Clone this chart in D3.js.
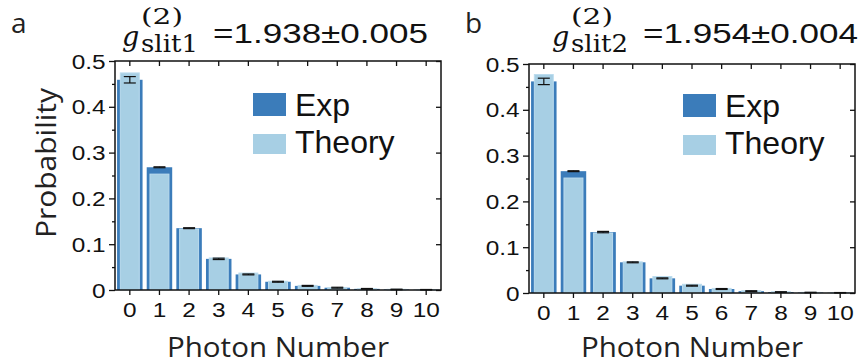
<!DOCTYPE html>
<html>
<head>
<meta charset="utf-8">
<script src="https://cdn.jsdelivr.net/npm/d3@7"></script>
<style>
    body { margin: 0; background: #fff; }
    svg { display: block; }
</style>
</head>
<body>
<svg id="chart" width="862" height="364"></svg>
<script>
// photon number categories
const photonNumbers = [0, 1, 2, 3, 4, 5, 6, 7, 8, 9, 10];

// slit 1
const expSlit1 = [0.459, 0.268, 0.135, 0.068, 0.034, 0.018, 0.009, 0.005, 0.0025, 0.0012, 0.0006];
const theorySlit1 = [0.474, 0.253, 0.133, 0.070, 0.037, 0.019, 0.010, 0.0055, 0.003, 0.0015, 0.0008];
const errSlit1 = [0.007, 0.001, 0.001, 0.0015, 0.001, 0.001, 0.001, 0.001, 0.0008, 0.0006, 0.0005];

// slit 2
const expSlit2 = [0.462, 0.266, 0.133, 0.067, 0.032, 0.016, 0.0087, 0.004, 0.002, 0.001, 0.0005];
const theorySlit2 = [0.477, 0.251, 0.131, 0.068, 0.036, 0.019, 0.010, 0.005, 0.0028, 0.0014, 0.0007];
const errSlit2 = [0.007, 0.001, 0.0015, 0.001, 0.001, 0.001, 0.001, 0.001, 0.0008, 0.0006, 0.0005];

const yMajorTicks = [0, 0.1, 0.2, 0.3, 0.4, 0.5];
const yMinorTicks = [0.05, 0.15, 0.25, 0.35, 0.45];
const legendLabels = ["Exp", "Theory"];

const expColor = "#3b7cba";
const theoryColor = "#a7cfe4";
const labelFont = "'Open Sans', sans-serif";
const numFont = "'Liberation Sans', Arial, sans-serif";

const svg = d3.select("#chart");

function drawPanel(cfg) {
    var x = d3.scaleBand()
        .domain(photonNumbers)
        .range([cfg.left, cfg.right])
        .padding(0);

    var y = d3.scaleLinear()
        .domain([0, 0.5])
        .range([cfg.bottom, cfg.top]);

    var g = svg.append("g");
    var bw = x.bandwidth();

    // experiment bars
    g.selectAll(".exp")
        .data(cfg.exp)
        .enter()
        .append("rect")
        .attr("x", (d, i) => x(photonNumbers[i]) + bw / 2 - bw * 0.43)
        .attr("y", d => y(d))
        .attr("width", bw * 0.86)
        .attr("height", d => cfg.bottom - y(d))
        .attr("fill", expColor);

    // theory bars on top
    g.selectAll(".theory")
        .data(cfg.theory)
        .enter()
        .append("rect")
        .attr("x", (d, i) => x(photonNumbers[i]) + bw / 2 - bw * 0.32)
        .attr("y", d => y(d))
        .attr("width", bw * 0.64)
        .attr("height", d => cfg.bottom - y(d))
        .attr("fill", theoryColor)
        .attr("stroke", "#bcdcee")
        .attr("stroke-width", 1);

    // error bars
    var eb = g.selectAll(".err")
        .data(cfg.exp)
        .enter()
        .append("g")
        .attr("stroke", "#111")
        .attr("stroke-width", 1.2);
    eb.append("line")
        .attr("x1", (d, i) => x(photonNumbers[i]) + bw / 2)
        .attr("x2", (d, i) => x(photonNumbers[i]) + bw / 2)
        .attr("y1", (d, i) => y(d + cfg.err[i]))
        .attr("y2", (d, i) => y(d - cfg.err[i]));
    [1, -1].forEach(function (s) {
        eb.append("line")
            .attr("x1", (d, i) => x(photonNumbers[i]) + bw / 2 - 6)
            .attr("x2", (d, i) => x(photonNumbers[i]) + bw / 2 + 6)
            .attr("y1", (d, i) => y(d + s * cfg.err[i]))
            .attr("y2", (d, i) => y(d + s * cfg.err[i]));
    });

    // axes
    var fmt = d => d === 0 ? "0" : d.toFixed(1);

    var left = g.append("g")
        .attr("transform", "translate(" + cfg.left + ",0)")
        .call(d3.axisLeft(y).tickValues(yMajorTicks).tickSize(6).tickSizeOuter(0).tickFormat(fmt));
    g.append("g")
        .attr("transform", "translate(" + cfg.left + ",0)")
        .call(d3.axisLeft(y).tickValues(yMinorTicks).tickSize(3).tickSizeOuter(0).tickFormat(""));
    g.append("g")
        .attr("transform", "translate(" + cfg.right + ",0)")
        .call(d3.axisLeft(y).tickValues(yMajorTicks).tickSize(5).tickSizeOuter(0).tickFormat(""));
    g.append("g")
        .attr("transform", "translate(0," + cfg.top + ")")
        .call(d3.axisBottom(x).tickSize(5).tickSizeOuter(0).tickFormat(""));
    var bottom = g.append("g")
        .attr("transform", "translate(0," + cfg.bottom + ")")
        .call(d3.axisBottom(x).tickSize(5).tickSizeOuter(0));

    g.selectAll(".domain").remove();
    g.selectAll(".tick line").attr("stroke", "#111").attr("stroke-width", 1.3);

    left.selectAll("text")
        .attr("x", -7.5)
        .attr("dy", "0.36em")
        .attr("transform", "scale(1.25,1)")
        .style("font", "19.5px " + numFont)
        .attr("fill", "#111");
    bottom.selectAll("text")
        .attr("y", 0)
        .attr("dy", 27)
        .attr("transform", "scale(1.25,1)")
        .style("font", "19.5px " + numFont)
        .attr("fill", "#111");

    // frame
    g.append("rect")
        .attr("x", cfg.left)
        .attr("y", cfg.top)
        .attr("width", cfg.right - cfg.left)
        .attr("height", cfg.bottom - cfg.top)
        .attr("fill", "none")
        .attr("stroke", "#111")
        .attr("stroke-width", 1.5);

    // axis titles
    g.append("text")
        .attr("x", (cfg.left + cfg.right) / 2)
        .attr("y", 357)
        .attr("text-anchor", "middle")
        .attr("textLength", 222)
        .attr("lengthAdjust", "spacingAndGlyphs")
        .style("font", "27px " + labelFont)
        .attr("fill", "#222")
        .text("Photon Number");

    if (cfg.yLabel) {
        g.append("text")
            .attr("transform", "translate(56,163) rotate(-90)")
            .attr("text-anchor", "middle")
            .attr("textLength", 150)
            .attr("lengthAdjust", "spacingAndGlyphs")
            .style("font", "27px " + labelFont)
            .attr("fill", "#222")
            .text("Probability");
    }

    // panel letter
    g.append("text")
        .attr("x", cfg.letterX)
        .attr("y", 33)
        .style("font", "28px " + labelFont)
        .attr("fill", "#222")
        .text(cfg.letter);

    // title g^(2)_slit = value
    g.append("text")
        .attr("x", cfg.titleX - 4)
        .attr("y", 46)
        .style("font", "italic 27px 'DejaVu Serif', serif")
        .attr("fill", "#111")
        .text("g");
    g.append("text")
        .attr("x", cfg.titleX + 15)
        .attr("y", 24)
        .attr("textLength", 42)
        .attr("lengthAdjust", "spacingAndGlyphs")
        .style("font", "22px 'DejaVu Serif', serif")
        .attr("fill", "#111")
        .text("(2)");
    g.append("text")
        .attr("x", cfg.titleX + 15)
        .attr("y", 52)
        .attr("textLength", 57)
        .attr("lengthAdjust", "spacingAndGlyphs")
        .style("font", "25px 'DejaVu Serif', serif")
        .attr("fill", "#111")
        .text(cfg.slit);
    g.append("text")
        .attr("x", cfg.titleX + 87)
        .attr("y", 43)
        .attr("textLength", 215)
        .attr("lengthAdjust", "spacingAndGlyphs")
        .style("font", "28px " + numFont)
        .attr("fill", "#111")
        .text(cfg.value);

    // legend
    var lg = g.append("g").attr("transform", "translate(" + cfg.legendX + "," + cfg.legendY + ")");
    lg.append("rect").attr("x", 0).attr("y", 0).attr("width", 33).attr("height", 23).attr("fill", expColor);
    lg.append("rect").attr("x", 0).attr("y", 41).attr("width", 33).attr("height", 20).attr("fill", theoryColor);
    lg.selectAll(".lt")
        .data(legendLabels)
        .enter()
        .append("text")
        .attr("x", 42)
        .attr("y", (d, i) => 23 + i * 37)
        .style("font", "32px " + numFont)
        .attr("fill", "#111")
        .text(d => d);
}

drawPanel({
    left: 115, right: 441, top: 61, bottom: 290,
    exp: expSlit1, theory: theorySlit1, err: errSlit1,
    yLabel: true, letter: "a", letterX: 11, titleX: 126,
    slit: "slit1", value: "=1.938±0.005",
    legendX: 253, legendY: 93
});

drawPanel({
    left: 529, right: 855, top: 64, bottom: 293,
    exp: expSlit2, theory: theorySlit2, err: errSlit2,
    yLabel: false, letter: "b", letterX: 465, titleX: 556,
    slit: "slit2", value: "=1.954±0.004",
    legendX: 683, legendY: 94
});
</script>
</body>
</html>
